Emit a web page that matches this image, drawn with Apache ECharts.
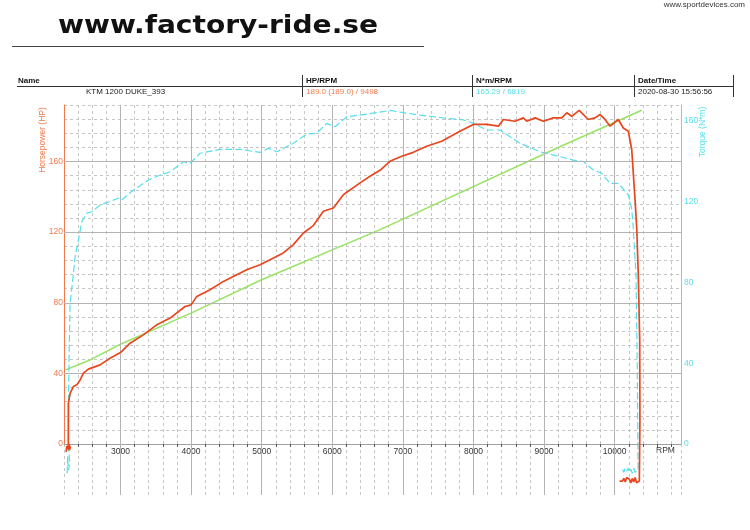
<!DOCTYPE html>
<html>
<head>
<meta charset="utf-8">
<script src="https://cdn.jsdelivr.net/npm/echarts@6/dist/echarts.min.js"></script>
<style>html,body{margin:0;padding:0;background:#fff;}#c{width:750px;height:530px;}</style>
</head>
<body>
<div id="c"></div>
<script>
// ---- data ----
const hpRpm = [2230,2240,2250,2262,2275,2290,2262,2262,2286,2333,2381,2428,2475,2546,2711,2852,3000,3136,3324,3514,3703,3915,4000,4081,4269,4458,4647,4789,4977,5119,5307,5449,5591,5732,5874,6016,6157,6394,6535,6677,6817,6984,7149,7338,7551,7763,7857,7999,8188,8353,8424,8589,8707,8755,8873,8990,9132,9251,9322,9392,9498,9627,9722,9793,9864,9935,10052,10123,10194,10242,10289,10313,10335,10355,10358,10350,10330,10310,10290,10270,10250,10230,10210,10190,10170,10150,10130,10110,10090,10070];
const hpVals = [-4.5,-1,-3,-0.5,-3.5,-2,0,23,28.7,32.5,33.5,36.3,40.1,42.4,44.8,48.6,51.8,57.1,61.8,67.5,71.3,77.9,78.8,83.6,87.4,92.1,95.9,98.7,101.5,104.4,108.2,112.9,119.5,123.7,131.8,133.7,141.2,147.9,151.6,155,160.1,163,165.2,168.6,171.5,176.2,178.1,181,181,180,183.8,182.8,184.7,182.8,184.7,182.8,184.7,184.7,187.6,185.6,189,183.8,184.7,186.6,183.8,180,183.8,179,177.1,166.8,138.4,122.3,95.9,59,13.6,-21,-20,-22,-19,-21.5,-19.5,-22,-20,-21,-19,-21.5,-19.5,-21,-20,-21];

const tqRpm = [2245,2252,2258,2268,2280,2262,2265,2275,2286,2324,2357,2404,2452,2523,2593,2711,2806,2970,3018,3183,3395,3561,3703,3891,3986,4127,4411,4694,4977,5095,5214,5449,5639,5780,5922,6040,6205,6394,6630,6819,7007,7244,7622,7857,7999,8188,8377,8518,8660,8943,9226,9415,9557,9698,9817,9935,10052,10194,10241,10264,10303,10320,10332,10310,10290,10270,10250,10230,10210,10190,10170,10150,10130,10110,10090];
const tqVals = [-14.5,-6,-11,-13,-9,0,25,50,69.7,81.3,92.8,101.1,110.2,114.4,115.1,118.4,119.6,121.8,120.9,125.9,130.8,133.3,134.9,139.9,139.1,144.1,146,146,144.5,146.5,144.8,149,153.6,154,158.9,157.2,162.2,163,164.2,165.3,164.2,163,161.4,160.6,158.9,155.6,155.6,152.3,149,144.8,142.4,140.7,140,135.8,134.1,129.2,129.2,123.4,116.8,106.9,83.7,40,-13,-12.5,-14,-12,-14.5,-12.5,-14,-12,-13.5,-12,-14,-12.5,-13.5];

const refRpm = [2221,2570,3000,4000,5000,6677,9232,10384];
const refVals = [42,47.6,56.5,74.1,93,121.4,168.5,189];

const rpmLabels = [3000,4000,5000,6000,7000,8000,9000,10000];
const hpLabels = [0,40,80,120,160];
const tqLabels = [0,40,80,120,160];

const header = {
  name: 'KTM 1200 DUKE_393',
  hp: '189.0 (189.0) / 9498',
  tq: '165.29 / 6819',
  date: '2020-08-30 15:56:56'
};

// ---- chart ----
const RED = '#e8461e', ORANGE = '#f07a4c', CYAN = '#55dfec', GREEN = '#98e264';
const MAJOR = '#b4b4b4', MINOR = '#c6c6c6';
const pairs = (xs, ys) => xs.map((x, i) => [x, ys[i]]);

const chart = echarts.init(document.getElementById('c'), null, {renderer: 'canvas'});
const lbl = '"Liberation Sans", Arial, sans-serif';

const option = {
  animation: false,
  backgroundColor: '#fff',
  grid: [
    {left: 64, right: 69, top: 105, height: 339},
    {left: 64, right: 69, top: 444, height: 51}
  ],
  xAxis: [
    {
      gridIndex: 0, type: 'value', min: 2200, max: 10940, interval: 200,
      axisLine: {show: true, onZero: false, lineStyle: {color: '#a0a0a0', width: 1}},
      axisTick: {show: true, length: 3, lineStyle: {color: '#555'}},
      axisLabel: {
        show: true, margin: 3, color: '#333', fontFamily: lbl, fontSize: 8.5,
        showMinLabel: false, showMaxLabel: false,
        formatter: v => { const r = Math.round(v); return rpmLabels.indexOf(r) >= 0 ? String(r) : ''; }
      },
      splitLine: {show: true, lineStyle: {color: MINOR, type: [3, 3], width: 1}}
    },
    {
      gridIndex: 1, type: 'value', min: 2200, max: 10940, interval: 200,
      axisLine: {show: false}, axisTick: {show: false}, axisLabel: {show: false},
      splitLine: {show: true, lineStyle: {color: MINOR, type: [3, 3], width: 1}}
    }
  ],
  yAxis: [
    {
      gridIndex: 0, type: 'value', min: 0, max: 192, interval: 8, position: 'left',
      axisLine: {show: true, lineStyle: {color: ORANGE, width: 1}},
      axisTick: {show: false},
      axisLabel: {
        color: ORANGE, fontFamily: lbl, fontSize: 8.5, margin: 1,
        formatter: v => { const r = Math.round(v); return hpLabels.indexOf(r) >= 0 ? String(r) : ''; }
      },
      splitLine: {show: true, lineStyle: {color: MINOR, type: [3, 3], width: 1}}
    },
    {
      gridIndex: 0, type: 'value', min: 0, max: 168, interval: 40, position: 'right',
      axisLine: {show: true, lineStyle: {color: CYAN, width: 1}},
      axisTick: {show: false},
      axisLabel: {
        color: CYAN, fontFamily: lbl, fontSize: 8.5, margin: 3,
        formatter: v => { const r = Math.round(v); return tqLabels.indexOf(r) >= 0 ? String(r) : ''; }
      },
      splitLine: {show: false}
    },
    {
      gridIndex: 1, type: 'value', min: 0, max: 1, show: false
    }
  ],
  series: [
    {
      name: 'majorsTop', type: 'line', xAxisIndex: 0, yAxisIndex: 0, data: [], z: 1,
      markLine: {
        silent: true, symbol: ['none', 'none'], label: {show: false}, animation: false,
        lineStyle: {color: MAJOR, type: 'solid', width: 1},
        data: rpmLabels.map(v => ({xAxis: v})).concat(hpLabels.filter(v => v > 0).map(v => ({yAxis: v})))
      }
    },
    {
      name: 'majorsBottom', type: 'line', xAxisIndex: 1, yAxisIndex: 2, data: [], z: 1,
      markLine: {
        silent: true, symbol: ['none', 'none'], label: {show: false}, animation: false,
        lineStyle: {color: MAJOR, type: 'solid', width: 1},
        data: rpmLabels.map(v => ({xAxis: v}))
      }
    },
    {
      name: 'ref', type: 'line', xAxisIndex: 0, yAxisIndex: 0, z: 3,
      data: pairs(refRpm, refVals), showSymbol: false, symbol: 'none', clip: false,
      lineStyle: {color: GREEN, width: 1.5}
    },
    {
      name: 'torque', type: 'line', xAxisIndex: 0, yAxisIndex: 1, z: 4,
      data: pairs(tqRpm, tqVals), showSymbol: false, symbol: 'none', clip: false,
      lineStyle: {color: CYAN, width: 1.2, type: [7, 3]}
    },
    {
      name: 'hp', type: 'line', xAxisIndex: 0, yAxisIndex: 0, z: 5,
      data: pairs(hpRpm, hpVals), showSymbol: false, symbol: 'none', clip: false,
      lineStyle: {color: RED, width: 1.7}
    }
  ],
  graphic: [
    {type: 'text', x: 58, y: 27, scaleX: 1.17, style: {text: 'www.factory-ride.se', font: 'bold 24px "DejaVu Sans", sans-serif', fill: '#111', textAlign: 'left', textVerticalAlign: 'middle'}},
    {type: 'line', shape: {x1: 12, y1: 46.5, x2: 424, y2: 46.5}, style: {stroke: '#444', lineWidth: 1}},
    {type: 'text', x: 745, y: 5, style: {text: 'www.sportdevices.com', font: '8px ' + lbl, fill: '#333', textAlign: 'right', textVerticalAlign: 'middle'}},

    {type: 'text', x: 18, y: 81, style: {text: 'Name', font: 'bold 8px ' + lbl, fill: '#111', textVerticalAlign: 'middle'}},
    {type: 'text', x: 306, y: 81, style: {text: 'HP/RPM', font: 'bold 8px ' + lbl, fill: '#111', textVerticalAlign: 'middle'}},
    {type: 'text', x: 476, y: 81, style: {text: 'N*m/RPM', font: 'bold 8px ' + lbl, fill: '#111', textVerticalAlign: 'middle'}},
    {type: 'text', x: 638, y: 81, style: {text: 'Date/Time', font: 'bold 8px ' + lbl, fill: '#111', textVerticalAlign: 'middle'}},
    {type: 'line', shape: {x1: 17, y1: 86.5, x2: 733, y2: 86.5}, style: {stroke: '#333', lineWidth: 1}},
    {type: 'line', shape: {x1: 302.5, y1: 75, x2: 302.5, y2: 97}, style: {stroke: '#333', lineWidth: 1}},
    {type: 'line', shape: {x1: 472.5, y1: 75, x2: 472.5, y2: 97}, style: {stroke: '#333', lineWidth: 1}},
    {type: 'line', shape: {x1: 634.5, y1: 75, x2: 634.5, y2: 97}, style: {stroke: '#333', lineWidth: 1}},
    {type: 'line', shape: {x1: 733.5, y1: 75, x2: 733.5, y2: 97}, style: {stroke: '#333', lineWidth: 1}},
    {type: 'text', x: 86, y: 91.5, style: {text: header.name, font: '8px ' + lbl, fill: '#222', textVerticalAlign: 'middle'}},
    {type: 'text', x: 306, y: 91.5, style: {text: header.hp, font: '8px ' + lbl, fill: ORANGE, textVerticalAlign: 'middle'}},
    {type: 'text', x: 476, y: 91.5, style: {text: header.tq, font: '8px ' + lbl, fill: CYAN, textVerticalAlign: 'middle'}},
    {type: 'text', x: 638, y: 91.5, style: {text: header.date, font: '8px ' + lbl, fill: '#222', textVerticalAlign: 'middle'}},

    {type: 'text', x: 43, y: 140, rotation: Math.PI / 2, style: {text: 'Horsepower (HP)', font: '8.5px ' + lbl, fill: ORANGE, textAlign: 'center', textVerticalAlign: 'middle'}},
    {type: 'text', x: 703, y: 132, rotation: Math.PI / 2, style: {text: 'Torque (N*m)', font: '8.5px ' + lbl, fill: CYAN, textAlign: 'center', textVerticalAlign: 'middle'}},
    {type: 'text', x: 665.5, y: 451, style: {text: 'RPM', font: '8.5px ' + lbl, fill: '#333', textAlign: 'center', textVerticalAlign: 'middle'}}
  ]
};
chart.setOption(option);
</script>
</body>
</html>
